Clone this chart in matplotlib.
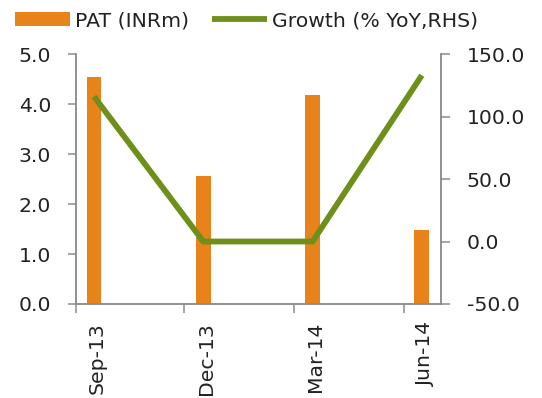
import matplotlib
matplotlib.use("Agg")
import matplotlib.pyplot as plt
import numpy as np

categories = ["Sep-13", "Dec-13", "Mar-14", "Jun-14"]
pat = [4.55, 2.57, 4.18, 1.49]
growth = [116.0, 0.0, 0.0, 133.0]
left_ticks = [0.0, 1.0, 2.0, 3.0, 4.0, 5.0]
right_ticks = [-50.0, 0.0, 50.0, 100.0, 150.0]

plt.rcParams['font.family'] = ['DejaVu Sans']
txt = '#222222'
grey = '#8c8c8c'
orange = '#E8821A'
green = '#6F8F1B'
fs = 14.7

fig = plt.figure(figsize=(5.42, 3.98), dpi=100)
ax = fig.add_axes([0.1402, 0.2362, 0.6734, 0.628])
x = np.arange(len(categories))
b = ax.bar(x, pat, width=0.135, color=orange, zorder=2)
ax.set_xlim(-0.165, 3.175)
ax.set_ylim(0, 5)
ax.set_yticks(left_ticks)
ax.set_yticklabels([f"{v:.1f}" for v in left_ticks])
ax.set_xticks(x + 0.03)
ax.set_xticklabels(categories, rotation=90)
ax.tick_params(axis='x', length=0, pad=13)
ax.set_xticks([-0.165, 0.823, 1.83, 2.84], minor=True)
ax.tick_params(axis='x', which='minor', length=6.5, color=grey, width=1.1)
ax.tick_params(axis='y', length=6, color=grey, width=1.1, pad=12)

ax2 = ax.twinx()
l, = ax2.plot(x, growth, color=green, lw=4.2, zorder=3,
              solid_joinstyle='miter', solid_capstyle='butt')
ax2.set_ylim(-50, 150)
ax2.set_yticks(right_ticks)
ax2.set_yticklabels([f"{v:.1f}" for v in right_ticks])
ax2.tick_params(axis='y', length=6.5, color=grey, width=1.1, pad=12)

for a in (ax, ax2):
    a.spines['top'].set_visible(False)
    for s in ('left', 'right', 'bottom'):
        a.spines[s].set_color(grey)
        a.spines[s].set_linewidth(1.1)
    a.tick_params(labelsize=fs, labelcolor=txt)

fig.legend([b, l], ['PAT (INRm)', 'Growth (% YoY,RHS)'], loc='upper left',
           bbox_to_anchor=(0.0277, 0.972), ncol=2, frameon=False, fontsize=fs,
           handlelength=2.7, handletextpad=0.25, columnspacing=1.1, labelcolor=txt,
           handleheight=0.62, borderpad=0, borderaxespad=0)

fig.savefig('out.png', dpi=100)
